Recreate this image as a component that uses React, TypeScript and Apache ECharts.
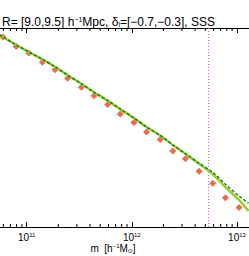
import React, { useEffect, useRef } from "react";
import * as echarts from "echarts";

// log10 of halo mass [h^-1 M_sun] for measured bins
const massBins = [10.775, 10.9, 11.02, 11.15, 11.27, 11.39, 11.52, 11.64, 11.77, 11.89, 12.02, 12.14, 12.27, 12.39, 12.51, 12.64, 12.77, 12.89, 13.02];
// measured mass function (log, arbitrary normalisation)
const measured = [-2.18, -2.37, -2.5, -2.69, -2.84, -3.01, -3.19, -3.36, -3.54, -3.73, -3.9, -4.09, -4.24, -4.47, -4.63, -4.88, -5.12, -5.41, -5.61];
// model curves
const modelMass = [10.7, 10.775, 10.9, 11.02, 11.15, 11.27, 11.39, 11.52, 11.64, 11.77, 11.89, 12.02, 12.14, 12.27, 12.39, 12.51, 12.64, 12.77, 12.89, 13.02, 13.11];
const modelSolid = [-2.08, -2.18, -2.34, -2.48, -2.63, -2.78, -2.95, -3.12, -3.29, -3.46, -3.63, -3.81, -3.99, -4.16, -4.35, -4.53, -4.73, -4.94, -5.2, -5.46, -5.68];
const modelDashed = [-2.08, -2.18, -2.34, -2.48, -2.63, -2.78, -2.95, -3.12, -3.29, -3.46, -3.63, -3.81, -3.99, -4.16, -4.35, -4.53, -4.72, -4.9, -5.14, -5.38, -5.52];
// vertical cut mass (log10)
const cutMass = 12.73;
// axis
const xMin = 10;
const xMax = 13.2;
const yMin = -6;
const yMax = -2;
const labelledDecades = [11, 12, 13];
const minorFactors = [2, 3, 4, 5, 6, 7, 8, 9];
const decades = [10, 11, 12, 13];

const FONT = "Liberation Sans";
const OX = 100; // chart div extends this far left of the window

export default function App() {
  const ref = useRef<HTMLDivElement>(null);
  useEffect(() => {
    if (!ref.current) return;
    const chart = echarts.init(ref.current, undefined, { renderer: "svg" });
    const minorTicks: number[][] = [];
    decades.forEach((d) =>
      minorFactors.forEach((f) => {
        const v = d + Math.log10(f);
        if (v > xMin && v < xMax) minorTicks.push([v, yMin]);
      })
    );
    const zip = (xs: number[], ys: number[]) => xs.map((x, i) => [x, ys[i]]);
    const axisCommon = {
      type: "value",
      min: xMin,
      max: xMax,
      interval: 1,
      splitLine: { show: false },
      axisLine: { show: true, lineStyle: { color: "#000", width: 1 } },
      axisTick: { show: true, inside: true, length: 5, lineStyle: { color: "#000", width: 1 } },
    };
    chart.setOption({
      animation: false,
      backgroundColor: "#fff",
      title: {
        text: "{t|R= [9.0,9.5] h}{s|−1}{t|Mpc, δ}{b|l}{t|=[−0.7,−0.3], SSS}",
        left: OX - 3,
        top: 11,
        textStyle: {
          fontWeight: "normal",
          rich: {
            t: { fontFamily: FONT, fontSize: 12, fontWeight: "normal", color: "#000" },
            s: { fontFamily: FONT, fontSize: 7, fontWeight: "normal", color: "#000", verticalAlign: "top", lineHeight: 12 },
            b: { fontFamily: FONT, fontSize: 7, fontWeight: "normal", color: "#000", verticalAlign: "bottom", lineHeight: 12 },
          },
        },
      },
      grid: { left: OX - 78.45, right: 11, top: 28, bottom: 29, containLabel: false },
      xAxis: [
        {
          ...axisCommon,
          position: "bottom",
          axisLabel: {
            show: true,
            margin: 5,
            formatter: (v: number) => {
              const d = labelledDecades.find((n) => Math.abs(v - n) < 1e-9);
              return d === undefined ? "" : `{b|10}{s|${d}}`;
            },
            rich: {
              b: { fontFamily: FONT, fontSize: 10, color: "#000" },
              s: { fontFamily: FONT, fontSize: 6, color: "#000", verticalAlign: "top", lineHeight: 10 },
            },
          },
        },
        {
          ...axisCommon,
          position: "top",
          axisLabel: { show: false },
        },
      ],
      yAxis: { type: "value", min: yMin, max: yMax, show: false },
      graphic: [
        {
          type: "text",
          x: OX + 113,
          y: 248,
          style: {
            text: "{t|m  [h}{s|−1}{t|M}{b|⊙}{t|]}",
            align: "center",
            verticalAlign: "middle",
            rich: {
              t: { fontFamily: FONT, fontSize: 10, fill: "#000", color: "#000" },
              s: { fontFamily: FONT, fontSize: 6, fill: "#000", color: "#000", verticalAlign: "top", lineHeight: 10 },
              b: { fontFamily: "DejaVu Sans", fontSize: 6, fill: "#000", color: "#000", verticalAlign: "bottom", lineHeight: 10 },
            },
          },
        },
      ],
      series: [
        {
          type: "custom",
          coordinateSystem: "cartesian2d",
          data: minorTicks,
          renderItem: (_p: any, api: any) => {
            const v = api.value(0);
            const top = api.coord([v, yMax]);
            const bot = api.coord([v, yMin]);
            return {
              type: "group",
              children: [
                { type: "line", shape: { x1: top[0], y1: top[1], x2: top[0], y2: top[1] + 3 }, style: { stroke: "#000", lineWidth: 1 } },
                { type: "line", shape: { x1: bot[0], y1: bot[1], x2: bot[0], y2: bot[1] - 3 }, style: { stroke: "#000", lineWidth: 1 } },
              ],
            };
          },
          silent: true,
        },
        {
          type: "line",
          data: [
            [cutMass, yMin],
            [cutMass, yMax],
          ],
          symbol: "none",
          lineStyle: { color: "#e050e0", width: 1, type: [1, 2] },
          silent: true,
        },
        {
          type: "scatter",
          data: zip(massBins, measured),
          symbol: "diamond",
          symbolSize: 7,
          itemStyle: { color: "#e8461e" },
        },
        {
          type: "line",
          data: zip(modelMass, modelSolid),
          symbol: "none",
          smooth: 0.3,
          lineStyle: { color: "#9acd32", width: 2.5 },
        },
        {
          type: "line",
          data: zip(modelMass, modelDashed),
          symbol: "none",
          smooth: 0.3,
          lineStyle: { color: "#1f7f1f", width: 1.5, type: [3, 2] },
        },
      ],
    });
    return () => chart.dispose();
  }, []);
  return <div ref={ref} style={{ position: "fixed", left: -OX, top: 0, width: 249 + OX + 20, height: 256 }} />;
}
